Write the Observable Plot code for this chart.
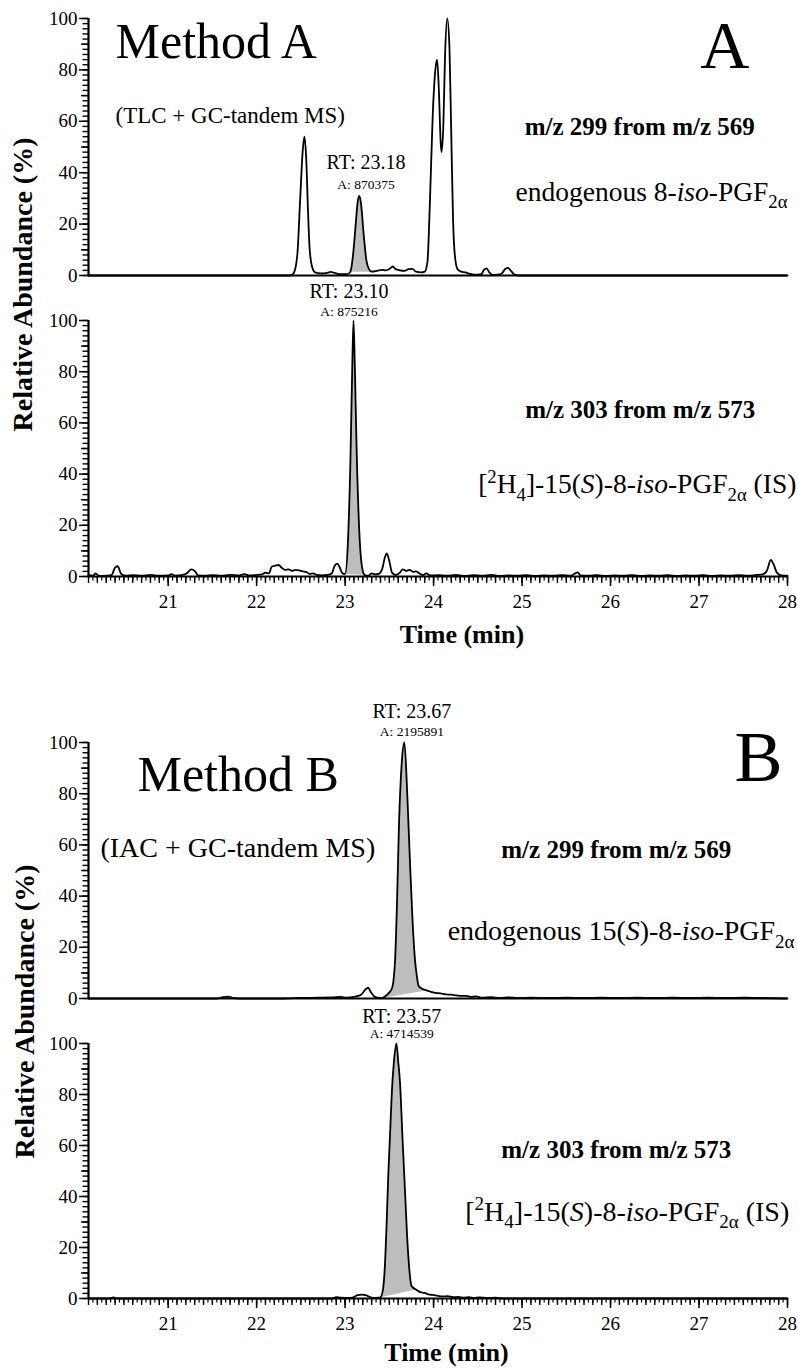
<!DOCTYPE html>
<html><head><meta charset="utf-8">
<script src="https://cdn.jsdelivr.net/npm/d3@7"></script>
<script src="https://cdn.jsdelivr.net/npm/@observablehq/plot@0.6"></script>
<style>
body{margin:0;background:#fff;}
#wrap{position:relative;width:798px;height:1368px;background:#fff;overflow:hidden;}
#wrap svg{position:absolute;left:0;overflow:visible;}
#wrap svg text, #wrap svg tspan{font-family:"Liberation Serif","Times New Roman","DejaVu Serif",serif !important;}
</style></head>
<body><div id="wrap"></div>
<script>
// ---------- data ----------
const timeDomain = [20.1, 28];
const xMajorTicks = [21, 22, 23, 24, 25, 26, 27, 28];
const yMajorTicks = [0, 20, 40, 60, 80, 100];
const xMinorTicks = d3.range(201, 281).map(d => d / 10);          // every 0.1 min
const xFineTicks = d3.range(4030, 5600, 10).map(d => d / 200);    // every 0.05 min
const yMinorTicks = d3.range(0, 101, 2);
const yMidTicks = d3.range(10, 100, 20);

// [time (min), relative abundance (%)]
const traceA1 = [[20.10,0],[22.38,0],[22.42,1],[22.46,8],[22.49,28],[22.52,48],[22.54,54],[22.56,46],[22.58,26],[22.60,10],[22.63,3],[22.66,1.2],[22.72,0.8],[22.80,1.0],[22.84,1.4],[22.88,1.0],[22.94,0.5],[23.02,0.5],[23.06,1.5],[23.09,8],[23.12,20],[23.14,28],[23.16,31],[23.18,28],[23.21,16],[23.24,6],[23.27,2.5],[23.30,1.5],[23.36,1.8],[23.42,2.2],[23.46,2.0],[23.50,2.5],[23.54,3.5],[23.57,2.5],[23.62,2.0],[23.67,1.8],[23.72,2.5],[23.76,2.6],[23.80,1.5],[23.86,1.2],[23.90,1.5],[23.93,5],[23.96,30],[23.99,62],[24.02,80],[24.04,84],[24.06,72],[24.08,52],[24.09,48],[24.11,58],[24.13,86],[24.155,100],[24.18,88],[24.20,55],[24.22,22],[24.24,8],[24.27,2.5],[24.31,1.5],[24.36,1.2],[24.41,0.6],[24.46,0.3],[24.50,0.3],[24.54,0.5],[24.57,2.2],[24.60,2.8],[24.63,1.2],[24.67,0.2],[24.72,0.3],[24.77,0.8],[24.81,2.5],[24.84,3.0],[24.87,2.0],[24.91,0.5],[24.96,0],[28,0]];

const traceA2 = [[20.10,0.5],[20.15,0.3],[20.18,1.2],[20.22,0.2],[20.30,0.3],[20.36,0.5],[20.40,3.5],[20.43,4.0],[20.47,1.0],[20.52,0.3],[20.60,0.5],[20.70,0.3],[20.80,0.6],[20.90,0.3],[21.00,0.4],[21.04,0.9],[21.08,0.3],[21.15,0.5],[21.22,1.5],[21.26,2.8],[21.30,2.2],[21.34,0.4],[21.42,0.3],[21.50,0.5],[21.60,0.3],[21.70,0.6],[21.80,0.4],[21.86,0.9],[21.92,0.4],[22.00,0.6],[22.06,0.8],[22.10,1.5],[22.14,1.2],[22.17,3.8],[22.21,4.2],[22.25,4.5],[22.28,3.5],[22.32,2.6],[22.36,2.8],[22.40,2.2],[22.44,2.6],[22.48,2.4],[22.52,2.0],[22.56,1.8],[22.60,1.0],[22.64,1.2],[22.68,0.6],[22.74,0.4],[22.80,0.6],[22.85,1.2],[22.88,4.0],[22.91,5.0],[22.94,3.5],[22.97,1.2],[23.00,1.0],[23.03,12],[23.06,45],[23.08,80],[23.095,100],[23.11,82],[23.13,50],[23.16,18],[23.19,4],[23.22,0.6],[23.26,0.3],[23.30,1.2],[23.34,0.8],[23.38,1.0],[23.42,3],[23.45,7.5],[23.47,9],[23.50,6],[23.53,1.5],[23.57,0.6],[23.62,1.5],[23.65,2.8],[23.69,2.2],[23.73,2.6],[23.77,1.8],[23.80,2.0],[23.84,1.2],[23.88,0.5],[23.92,1.2],[23.96,0.4],[24.05,0.5],[24.15,0.3],[24.25,0.6],[24.35,0.2],[24.45,0.5],[24.55,0.3],[24.65,0.6],[24.75,0.2],[24.85,0.4],[24.95,0.3],[25.05,0.5],[25.15,0.2],[25.25,0.4],[25.35,0.3],[25.45,0.5],[25.55,0.3],[25.60,1.2],[25.63,1.6],[25.66,0.4],[25.75,0.3],[25.85,0.5],[25.95,0.2],[26.05,0.4],[26.15,0.3],[26.25,0.5],[26.35,0.2],[26.45,0.4],[26.55,0.3],[26.65,0.5],[26.75,0.2],[26.85,0.4],[26.95,0.3],[27.05,0.5],[27.15,0.2],[27.25,0.4],[27.35,0.3],[27.45,0.5],[27.55,0.3],[27.65,0.6],[27.72,0.8],[27.77,2.5],[27.81,6.5],[27.84,5],[27.88,1.5],[27.93,0.4],[28,0.3]];

const traceB1 = [[20.10,0],[21.55,0],[21.62,0.5],[21.68,0.7],[21.74,0.2],[21.85,0],[22.30,0],[22.50,0.2],[22.70,0.3],[22.85,0.4],[22.95,0.6],[23.02,0.3],[23.10,0.6],[23.18,1.5],[23.23,3.5],[23.26,4.2],[23.29,2.5],[23.33,0.8],[23.37,0.3],[23.41,0.1],[23.45,0.8],[23.49,2.0],[23.53,4],[23.55,8],[23.565,15],[23.585,35],[23.61,69],[23.64,92],[23.67,100],[23.70,82],[23.73,56],[23.76,32],[23.79,15],[23.81,9],[23.83,5],[23.87,3.8],[23.92,3.2],[23.97,2.6],[24.02,2.2],[24.08,2.0],[24.14,1.6],[24.20,1.5],[24.26,1.2],[24.32,1.0],[24.37,1.0],[24.42,0.6],[24.48,0.8],[24.55,0.3],[24.65,0.5],[24.75,0.2],[24.85,0.4],[24.95,0.2],[25.10,0.3],[25.30,0.2],[25.50,0.3],[25.70,0.2],[25.90,0.3],[26.10,0.2],[26.30,0.3],[26.50,0.2],[26.70,0.3],[26.90,0.2],[27.10,0.3],[27.30,0.2],[27.50,0.3],[27.70,0.2],[28,0]];

const traceB2 = [[20.10,0],[20.33,0],[20.38,0.4],[20.43,0],[22.85,0],[22.90,0.5],[22.95,0.3],[23.05,0.2],[23.10,0.6],[23.14,1.3],[23.19,1.5],[23.24,1.2],[23.28,0.6],[23.33,0.2],[23.37,0.3],[23.40,0.5],[23.43,4],[23.45,13],[23.47,30],[23.49,50],[23.51,66],[23.53,82],[23.55,92],[23.58,100],[23.60,93],[23.62,85],[23.65,62],[23.68,40],[23.70,25],[23.72,14],[23.75,5],[23.80,3.5],[23.85,2.5],[23.90,2.2],[23.94,1.6],[23.99,1.4],[24.05,1.0],[24.10,0.8],[24.16,0.9],[24.22,0.5],[24.28,0.6],[24.34,0.3],[24.40,0.5],[24.46,0.2],[24.52,0.4],[24.60,0.2],[24.70,0.3],[24.80,0],[28,0]];

// integrated peak windows [start, end] (min)
const shadeA1 = [23.06, 23.30];
const shadeA2 = [23.00, 23.22];
const shadeB1 = [23.41, 23.92];
const shadeB2 = [23.40, 23.80];

// peak labels: retention time, area
const peakA1 = {rt: 23.18, area: 870375};
const peakA2 = {rt: 23.10, area: 875216};
const peakB1 = {rt: 23.67, area: 2195891};
const peakB2 = {rt: 23.57, area: 4714539};

const methodLabels = ["Method A", "Method B"];
const methodNotes = ["(TLC + GC-tandem MS)", "(IAC + GC-tandem MS)"];
const panelLetters = ["A", "B"];
const transitions = ["m/z 299 from m/z 569", "m/z 303 from m/z 573"];
const analyteLabels = [
  "endogenous 8-<i>iso</i>-PGF<sub>2α</sub>",
  "[<sup>2</sup>H<sub>4</sub>]-15(<i>S</i>)-8-<i>iso</i>-PGF<sub>2α</sub> (IS)",
  "endogenous 15(<i>S</i>)-8-<i>iso</i>-PGF<sub>2α</sub>",
  "[<sup>2</sup>H<sub>4</sub>]-15(<i>S</i>)-8-<i>iso</i>-PGF<sub>2α</sub> (IS)"
];
const yTitle = "Relative Abundance (%)";
const xTitle = "Time (min)";

// ---------- drawing ----------
const FONT = "Liberation Serif";
const wrap = document.getElementById("wrap");
const PX_PER_MIN = 699 / (timeDomain[1] - timeDomain[0]);

function txt(s, o) {
  return Plot.text([s], {text: d => d, lineAnchor: "middle", fill: "#000", fontFamily: FONT, ...o});
}
// short tick segments drawn as links; lengths converted from pixels to data units
function yTicks(vals, len, w) {
  return Plot.link(vals, {x1: timeDomain[0] - len / PX_PER_MIN, x2: timeDomain[0], y1: d => d, y2: d => d, stroke: "#000", strokeWidth: w});
}
function xTicks(vals, len, w, pxPerPct) {
  return Plot.link(vals, {x1: d => d, x2: d => d, y1: 0, y2: -len / pxPerPct, stroke: "#000", strokeWidth: w});
}

function chart(cfg) {
  const {trace, shade, peak, top, height, mt, mb, bottomAxis, extra} = cfg;
  const pxPerPct = (height - mt - mb) / 100;
  const seg = trace.filter(d => d[0] >= shade[0] && d[0] <= shade[1]);
  const marks = [
    Plot.line(seg, {x: d => d[0], y: d => d[1], fill: "#bdbdbd", stroke: "none", curve: "monotone-x"}),
    Plot.line(trace, {x: d => d[0], y: d => d[1], stroke: "#000", strokeWidth: 1.8, curve: "monotone-x"}),
    Plot.ruleY([0], {stroke: "#000", strokeWidth: 2.2}),
    Plot.ruleX([timeDomain[0]], {y1: 0, y2: 100, stroke: "#000", strokeWidth: 2.2}),
    yTicks(yMinorTicks, 6, 1.4),
    yTicks(yMidTicks, 7.5, 1.4),
    Plot.axisY({ticks: yMajorTicks, tickSize: 9, tickPadding: 2, fontSize: 19, label: null, strokeWidth: 1.5}),
    txt("RT: " + peak.rt.toFixed(2), {x: peak.rt, y: cfg.rtY, dx: cfg.rtDx, fontSize: 20}),
    txt("A: " + peak.area, {x: peak.rt, y: cfg.areaY, dx: cfg.rtDx, fontSize: 13.5}),
    ...extra
  ];
  if (bottomAxis) {
    marks.push(
      xTicks(xFineTicks, 4, 1.2, pxPerPct),
      xTicks(xMinorTicks, 6.5, 1.4, pxPerPct),
      Plot.axisX({ticks: xMajorTicks, tickSize: 10, tickPadding: 8, fontSize: 19, label: null, strokeWidth: 1.5}),
      txt(xTitle, {x: cfg.xTitleX, frameAnchor: "bottom", lineAnchor: "middle", textAnchor: "middle", dy: cfg.xTitleDy, fontSize: 26, fontWeight: "bold"}),
      txt(yTitle, {frameAnchor: "left", textAnchor: "middle", lineAnchor: "middle", rotate: -90, dx: cfg.yTitleDx, dy: cfg.yTitleDy, fontSize: 28, fontWeight: "bold"})
    );
  }
  const svg = Plot.plot({
    width: 798, height,
    marginLeft: 88, marginRight: 11, marginTop: mt, marginBottom: mb,
    x: {domain: timeDomain, axis: bottomAxis ? undefined : null},
    y: {domain: [0, 100], label: null},
    style: {background: "transparent", overflow: "visible", color: "#000"},
    marks
  });
  svg.style.top = top + "px";
  wrap.appendChild(svg);
  richText(svg);
}

function richText(svg) {
  d3.select(svg).selectAll("text").each(function () {
    const s = this.textContent;
    if (!s.includes("<")) return;
    const fs = parseFloat(getComputedStyle(this).fontSize);
    const segs = [];
    let st = {i: false, sub: false, sup: false};
    const re = /<(\/?)(i|sub|sup)>/g;
    let last = 0, m;
    while ((m = re.exec(s))) {
      if (m.index > last) segs.push({t: s.slice(last, m.index), ...st});
      st = {...st, [m[2]]: !m[1]};
      last = re.lastIndex;
    }
    if (last < s.length) segs.push({t: s.slice(last), ...st});
    this.textContent = "";
    let shift = 0;
    for (const g of segs) {
      const target = g.sub ? 0.28 * fs : g.sup ? -0.38 * fs : 0;
      const ts = d3.select(this).append("tspan").text(g.t);
      if (target !== shift) ts.attr("dy", target - shift);
      shift = target;
      if (g.sub || g.sup) ts.attr("font-size", 0.68 * fs);
      if (g.i) ts.attr("font-style", "italic");
    }
  });
}

// Panel A, top: m/z 299
chart({
  trace: traceA1, shade: shadeA1, peak: peakA1, top: 0, height: 290, mt: 18, mb: 15, bottomAxis: false,
  rtY: 44.1, areaY: 35.5, rtDx: 5,
  extra: [
    txt(methodLabels[0], {x: 20.405, y: 90.7, textAnchor: "start", fontSize: 50}),
    txt(panelLetters[0], {x: 27.29, y: 89.4, fontSize: 68}),
    txt(methodNotes[0], {x: 20.405, y: 62.4, textAnchor: "start", fontSize: 23}),
    txt(transitions[0], {x: 26.33, y: 57.6, fontSize: 25, fontWeight: "bold"}),
    txt(analyteLabels[0], {x: 28, y: 32.6, textAnchor: "end", fontSize: 27.5})
  ]
});
// Panel A, bottom: m/z 303
chart({
  trace: traceA2, shade: shadeA2, peak: peakA2, top: 290, height: 380, mt: 30, mb: 94, bottomAxis: true,
  rtY: 111.1, areaY: 103.6, rtDx: -5, xTitleX: 24.32, xTitleDy: 57.7, yTitleDx: -65, yTitleDy: -164,
  extra: [
    txt(transitions[1], {x: 26.336, y: 65.2, fontSize: 25, fontWeight: "bold"}),
    txt(analyteLabels[1], {x: 28.1, y: 35.9, textAnchor: "end", fontSize: 27.5})
  ]
});
// Panel B, top: m/z 299
chart({
  trace: traceB1, shade: shadeB1, peak: peakB1, top: 670, height: 340, mt: 72, mb: 12, bottomAxis: false,
  rtY: 111.9, areaY: 104.4, rtDx: 7.5,
  extra: [
    txt(methodLabels[1], {x: 20.653, y: 87.5, textAnchor: "start", fontSize: 50}),
    txt(panelLetters[1], {x: 27.673, y: 94.1, fontSize: 72}),
    txt(methodNotes[1], {x: 20.235, y: 58.6, textAnchor: "start", fontSize: 28}),
    txt(transitions[0], {x: 26.065, y: 58.2, fontSize: 25, fontWeight: "bold"}),
    txt(analyteLabels[2], {x: 28.08, y: 26.2, textAnchor: "end", fontSize: 28})
  ]
});
// Panel B, bottom: m/z 303
chart({
  trace: traceB2, shade: shadeB2, peak: peakB2, top: 1010, height: 358, mt: 33, mb: 70, bottomAxis: true,
  rtY: 110.4, areaY: 104.0, rtDx: 6.2, xTitleX: 24.146, xTitleDy: 54, yTitleDx: -63, yTitleDy: -159.5,
  extra: [
    txt(transitions[1], {x: 26.065, y: 58.4, fontSize: 25, fontWeight: "bold"}),
    txt(analyteLabels[3], {x: 28.02, y: 34.1, textAnchor: "end", fontSize: 28})
  ]
});
</script>
</body></html>
